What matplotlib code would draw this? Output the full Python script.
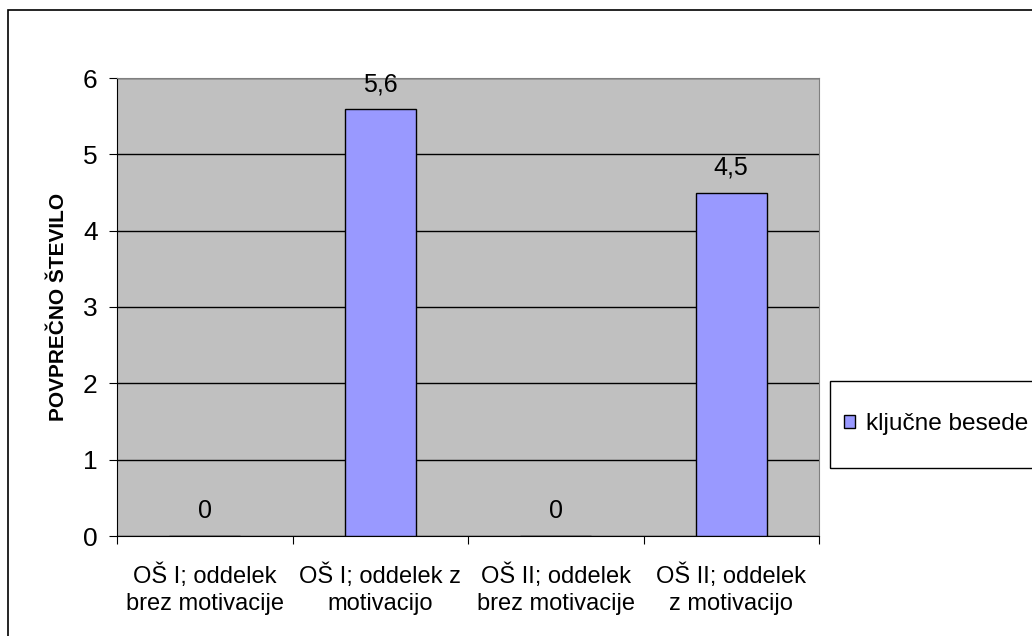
import matplotlib.pyplot as plt
from matplotlib.patches import Rectangle

plt.rcParams['font.family'] = ['Liberation Sans', 'DejaVu Sans']

# podatki
kategorije = ["OŠ I; oddelek\nbrez motivacije", "OŠ I; oddelek z\nmotivacijo",
              "OŠ II; oddelek\nbrez motivacije", "OŠ II; oddelek\nz motivacijo"]
vrednosti = [0, 5.6, 0, 4.5]
oznake = ["0", "5,6", "0", "4,5"]
serija = "ključne besede"

W, H = 1032, 636
fig = plt.figure(figsize=(W / 100, H / 100), dpi=100)
# okvir grafikona
fig.patches.append(Rectangle((8 / W, -0.1), 1.2, 1 - 10 / H + 0.1, transform=fig.transFigure,
                             fill=False, edgecolor='black', linewidth=1.2))
# okvir legende
fig.patches.append(Rectangle((830 / W, 1 - 468 / H), 0.3, 87 / H, transform=fig.transFigure,
                             fill=False, edgecolor='black', linewidth=1))

ax = fig.add_axes([117 / W, 1 - 536 / H, (819 - 117) / W, (536 - 78) / H])
ax.set_facecolor('#C0C0C0')
x = range(len(kategorije))
bars = ax.bar(x, vrednosti, width=0.405, color='#9999FF', edgecolor='black', linewidth=1,
              label=serija, zorder=3)
ax.set_xlim(-0.5, 3.5)
ax.set_ylim(0, 6)
ax.set_yticks(range(7))
ax.yaxis.grid(True, color='black', linewidth=1, zorder=0)
ax.set_axisbelow(True)
ax.set_xticks([i - 0.5 for i in range(5)], minor=False)
ax.set_xticklabels([])
ax.set_xticks(list(x), minor=True)
ax.set_xticklabels(kategorije, minor=True, fontsize=17, linespacing=1.3)
ax.tick_params(axis='x', which='minor', length=0, pad=20)
ax.tick_params(axis='x', which='major', length=6, direction='out', color='black')
ax.tick_params(axis='y', labelsize=19, length=6, pad=8)
for s in ['top', 'right']:
    ax.spines[s].set_color('#808080')
for s in ['left', 'bottom']:
    ax.spines[s].set_color('black')
ax.set_ylabel("POVPREČNO ŠTEVILO", fontsize=15, fontweight='bold', labelpad=11)

for b, t in zip(bars, oznake):
    ax.annotate(t, (b.get_x() + b.get_width() / 2, b.get_height()), xytext=(0, 9),
                textcoords='offset points', ha='center', va='bottom', fontsize=18)

fig.legend(loc='center left', bbox_to_anchor=(844 / W, 1 - 424 / H), fontsize=17.6,
           frameon=False, borderpad=0, handlelength=0.45, handleheight=0.45,
           handletextpad=0.45, borderaxespad=0)

fig.savefig('out.png', dpi=100)
